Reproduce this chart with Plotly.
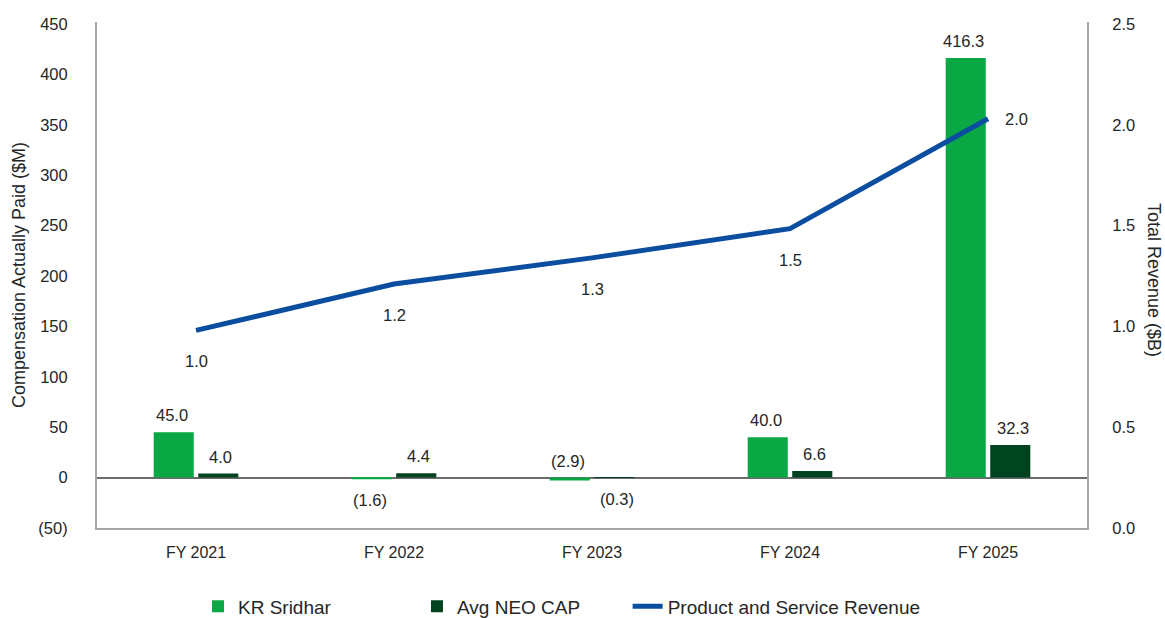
import plotly.graph_objects as go

# Fiscal years on the category axis
years = ["FY 2021", "FY 2022", "FY 2023", "FY 2024", "FY 2025"]

# Compensation actually paid ($M)
kr_sridhar = [45.0, -1.6, -2.9, 40.0, 416.3]
avg_neo_cap = [4.0, 4.4, -0.3, 6.6, 32.3]

# Product and service revenue ($B)
revenue = [0.98, 1.21, 1.34, 1.485, 2.03]

# Axis ticks
left_ticks = [-50, 0, 50, 100, 150, 200, 250, 300, 350, 400, 450]
right_ticks = [0.0, 0.5, 1.0, 1.5, 2.0, 2.5]

# label placement for each bar value: above or below the bar end
kr_label_side = ["above", "below", "above", "above", "above"]
neo_label_side = ["above", "above", "below", "above", "above"]

LIGHT_GREEN = "#0aa845"
DARK_GREEN = "#00431f"
BLUE = "#0b4ea0"
TEXT = "#262626"
FONT = "Liberation Sans, Arial, sans-serif"

W, H = 1165, 618
ML, MR, MT, MB = 97, 78, 22, 90
PLOT_W = W - ML - MR


def fmt_paren(v):
    return f"({abs(v):.1f})" if v < 0 else f"{v:.1f}"


def fmt_tick(v):
    return f"({abs(v)})" if v < 0 else f"{v}"


fig = go.Figure()

fig.add_trace(go.Bar(
    x=years, y=kr_sridhar, name="KR Sridhar",
    marker=dict(color=LIGHT_GREEN, line=dict(width=0)),
    yaxis="y", legend="legend", hoverinfo="x+y",
))
fig.add_trace(go.Bar(
    x=years, y=avg_neo_cap, name="Avg NEO CAP",
    marker=dict(color=DARK_GREEN, line=dict(width=0)),
    yaxis="y", legend="legend", hoverinfo="x+y",
))
fig.add_trace(go.Scatter(
    x=years, y=revenue, name="Product and Service Revenue",
    mode="lines", line=dict(color=BLUE, width=5),
    yaxis="y2", legend="legend2", hoverinfo="x+y",
))

annotations = []

# value labels on the bars
for vals, sides, xshift in ((kr_sridhar, kr_label_side, -24.5),
                            (avg_neo_cap, neo_label_side, 24.5)):
    for yr, v, side in zip(years, vals, sides):
        base = max(v, 0) if side == "above" else min(v, 0)
        annotations.append(dict(
            x=yr, y=base, xref="x", yref="y",
            text=fmt_paren(v), showarrow=False,
            xshift=xshift, yshift=17 if side == "above" else -21,
            font=dict(size=16.5, color=TEXT, family=FONT),
        ))

# value labels on the revenue line
for i, (yr, v) in enumerate(zip(years, revenue)):
    last = i == len(years) - 1
    annotations.append(dict(
        x=yr, y=v, xref="x", yref="y2",
        text=f"{v:.1f}", showarrow=False,
        xshift=28 if last else 0, yshift=0 if last else -31,
        font=dict(size=16.5, color=TEXT, family=FONT),
    ))

# right axis title, reading top to bottom
annotations.append(dict(
    x=(1154 - ML) / PLOT_W, xanchor="center",
    y=(H - 280 - MB) / (H - MT - MB), yanchor="middle",
    xref="paper", yref="paper",
    text="Total Revenue ($B)", showarrow=False, textangle=90,
    font=dict(size=18, color=TEXT, family=FONT),
))

legend_style = dict(
    orientation="h", xanchor="left", y=-0.155, yanchor="middle",
    font=dict(size=19, color=TEXT, family=FONT),
    bgcolor="rgba(0,0,0,0)", borderwidth=0,
)

fig.update_layout(
    width=W, height=H,
    margin=dict(l=ML, r=MR, t=MT, b=MB, autoexpand=False),
    paper_bgcolor="white", plot_bgcolor="white",
    font=dict(family=FONT, color=TEXT, size=16.5),
    barmode="group", bargap=0.55, bargroupgap=0.1,
    showlegend=True,
    legend=dict(legend_style, x=0.102, entrywidth=174,
                entrywidthmode="pixels", traceorder="normal"),
    legend2=dict(legend_style, x=0.536),
    xaxis=dict(
        showgrid=False, zeroline=False,
        showline=True, linecolor="#a6a6a6", linewidth=2,
        ticks="", tickfont=dict(size=16, color=TEXT),
        ticklabelstandoff=9,
    ),
    yaxis=dict(
        range=[-50, 452], showgrid=False,
        zeroline=True, zerolinecolor="#6b6b6b", zerolinewidth=2,
        showline=True, linecolor="#a6a6a6", linewidth=2,
        tickvals=left_ticks, ticktext=[fmt_tick(t) for t in left_ticks],
        ticks="", tickfont=dict(size=16.5, color=TEXT),
        ticklabelstandoff=24,
        title=dict(text="Compensation Actually Paid ($M)",
                   font=dict(size=18, color=TEXT), standoff=8),
    ),
    yaxis2=dict(
        range=[0, 2.51], overlaying="y", side="right",
        showgrid=False, zeroline=False,
        showline=True, linecolor="#a6a6a6", linewidth=2,
        tickvals=right_ticks, ticktext=[f"{t:.1f}" for t in right_ticks],
        ticks="", tickfont=dict(size=16.5, color=TEXT),
        ticklabelstandoff=20,
    ),
    annotations=annotations,
)

fig.write_html("out.html")
